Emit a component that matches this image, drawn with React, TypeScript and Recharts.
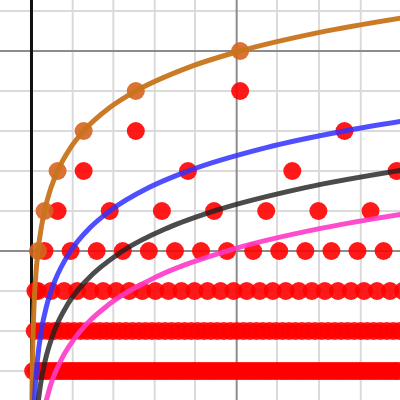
import { ComposedChart, XAxis, YAxis, Line, Scatter, ReferenceLine } from "recharts";

const xDomain: [number, number] = [-4.83, 56.52];
const yDomain: [number, number] = [-3.725, 6.275];

// grid
const minorX = [6.32, 12.55, 18.9, 25.08, 37.65, 44.1, 50.5, 56.9];
const majorX = [31.47];
const minorY = [-3, -2, -1, 1, 2, 3, 4, 6];
const majorY = [0, 5];

// red dots, one list of x per row
const rowM3 = [
  0.25, 0.75, 1.25, 1.75, 2.25, 2.75, 3.25, 3.75, 4.25, 4.75, 5.25, 5.75, 6.25, 6.75, 7.25, 7.75,
  8.25, 8.75, 9.25, 9.75, 10.25, 10.75, 11.25, 11.75, 12.25, 12.75, 13.25, 13.75, 14.25, 14.75,
  15.25, 15.75, 16.25, 16.75, 17.25, 17.75, 18.25, 18.75, 19.25, 19.75, 20.25, 20.75, 21.25, 21.75,
  22.25, 22.75, 23.25, 23.75, 24.25, 24.75, 25.25, 25.75, 26.25, 26.75, 27.25, 27.75, 28.25, 28.75,
  29.25, 29.75, 30.25, 30.75, 31.25, 31.75, 32.25, 32.75, 33.25, 33.75, 34.25, 34.75, 35.25, 35.75,
  36.25, 36.75, 37.25, 37.75, 38.25, 38.75, 39.25, 39.75, 40.25, 40.75, 41.25, 41.75, 42.25, 42.75,
  43.25, 43.75, 44.25, 44.75, 45.25, 45.75, 46.25, 46.75, 47.25, 47.75, 48.25, 48.75, 49.25, 49.75,
  50.25, 50.75, 51.25, 51.75, 52.25, 52.75, 53.25, 53.75, 54.25, 54.75, 55.25, 55.75, 56.25,
];
const rowM2 = [
  0.5, 1.5, 2.5, 3.5, 4.5, 5.5, 6.5, 7.5, 8.5, 9.5, 10.5, 11.5, 12.5, 13.5, 14.5, 15.5, 16.5,
  17.5, 18.5, 19.5, 20.5, 21.5, 22.5, 23.5, 24.5, 25.5, 26.5, 27.5, 28.5, 29.5, 30.5, 31.5, 32.5,
  33.5, 34.5, 35.5, 36.5, 37.5, 38.5, 39.5, 40.5, 41.5, 42.5, 43.5, 44.5, 45.5, 46.5, 47.5, 48.5,
  49.5, 50.5, 51.5, 52.5, 53.5, 54.5, 55.5, 56.5,
];
const rowM1 = [
  0.6, 1, 3, 5, 7, 9, 11, 13, 15, 17, 19, 21, 23, 25, 27, 29, 31, 33, 35, 37, 39, 41, 43, 45, 47, 49,
  51, 53, 55, 57,
];
const row0 = [2, 6, 10, 14, 18, 22, 26, 30, 34, 38, 42, 46, 50, 54];
const row1 = [4, 12, 20, 28, 36, 44, 52];
const row2 = [8, 24, 40, 56];
const row3 = [16, 48];
const row4 = [32];

const rows: [number, number[]][] = [
  [-3, rowM3], [-2, rowM2], [-1, rowM1], [0, row0], [1, row1], [2, row2], [3, row3], [4, row4],
];
const redDots = rows.flatMap(([y, xs]) => xs.map((x) => ({ x, y })));

// orange dots
const orangeDotX = [1, 2, 4, 8, 16, 32];
const orangeDotY = [0, 1, 2, 3, 4, 5];

// curves
const orangeX = [0.07, 0.1, 0.15, 0.25, 0.4, 0.6, 1, 1.5, 2, 3, 4, 6, 8, 12, 16, 24, 32, 44, 57];
const orangeY = [-3.84, -3.32, -2.74, -2, -1.32, -0.74, 0, 0.585, 1, 1.585, 2, 2.585, 3, 3.585, 4, 4.585, 5, 5.46, 5.833];
const blueX = [0.42, 0.6, 0.9, 1.5, 2.4, 3.6, 6, 9, 12, 18, 24, 36, 48, 57];
const blueY = [-3.84, -3.32, -2.74, -2, -1.32, -0.74, 0, 0.585, 1, 1.585, 2, 2.585, 3, 3.248];
const blackX = [0.98, 1.4, 2.1, 3.5, 5.6, 8.4, 14, 21, 28, 42, 57];
const blackY = [-3.84, -3.32, -2.74, -2, -1.32, -0.74, 0, 0.585, 1, 1.585, 2.026];
const pinkX = [2.1, 3, 4.5, 7.5, 12, 18, 30, 45, 57];
const pinkY = [-3.84, -3.32, -2.74, -2, -1.32, -0.74, 0, 0.585, 0.926];

const zip = (xs: number[], ys: number[]) => xs.map((x, i) => ({ x, y: ys[i] }));

const curves = [
  { key: "orange", data: zip(orangeX, orangeY), color: "#c8741a", opacity: 0.95 },
  { key: "blue", data: zip(blueX, blueY), color: "#3030ff", opacity: 0.85 },
  { key: "black", data: zip(blackX, blackY), color: "#1e1e1e", opacity: 0.8 },
  { key: "pink", data: zip(pinkX, pinkY), color: "#ff38c8", opacity: 0.9 },
];

const dot = (fill: string) => (p: any) => (
  <circle cx={p.cx} cy={p.cy} r={9} fill={fill} fillOpacity={0.9} />
);

export default function App() {
  return (
    <div style={{ position: "absolute", left: 0, top: 0, background: "#fff" }}>
      <ComposedChart width={400} height={400} margin={{ top: 0, right: 0, bottom: 0, left: 0 }}>
        <XAxis type="number" dataKey="x" domain={xDomain} allowDataOverflow hide />
        <YAxis type="number" dataKey="y" domain={yDomain} allowDataOverflow hide />
        {minorX.map((v) => (
          <ReferenceLine key={"mx" + v} x={v} stroke="#dadada" strokeWidth={2} zIndex={-100} />
        ))}
        {minorY.map((v) => (
          <ReferenceLine key={"my" + v} y={v} stroke="#dadada" strokeWidth={2} zIndex={-100} />
        ))}
        {majorX.map((v) => (
          <ReferenceLine key={"Mx" + v} x={v} stroke="#8c8c8c" strokeWidth={2} zIndex={-90} />
        ))}
        {majorY.map((v) => (
          <ReferenceLine key={"My" + v} y={v} stroke="#8c8c8c" strokeWidth={2} zIndex={-90} />
        ))}
        <ReferenceLine x={0} stroke="#111" strokeWidth={3} zIndex={-80} />
        <Scatter data={redDots} shape={dot("#ff0000")} isAnimationActive={false} zIndex={100} />
        <Scatter data={zip(orangeDotX, orangeDotY)} shape={dot("#d6641f")} isAnimationActive={false} zIndex={110} />
        {curves.map((c) => (
          <Line
            key={c.key} data={c.data} dataKey="y" type="monotone" stroke={c.color}
            strokeOpacity={c.opacity} strokeWidth={5} dot={false} activeDot={false}
            isAnimationActive={false} zIndex={700}
          />
        ))}
      </ComposedChart>
    </div>
  );
}
